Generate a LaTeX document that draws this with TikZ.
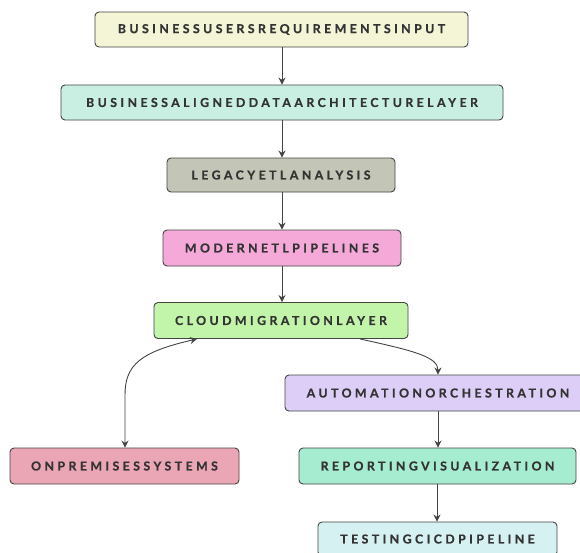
\documentclass[tikz,border=0pt]{standalone}
\usepackage{fontspec}
\newfontfamily\boxfont[LetterSpace=28,FakeBold=0.8]{Lato Bold}
\usetikzlibrary{arrows.meta}
\definecolor{edgec}{HTML}{444444}
\definecolor{txtc}{HTML}{333333}
\definecolor{cA}{HTML}{F3F5D6}
\definecolor{cB}{HTML}{C8EFE2}
\definecolor{cC}{HTML}{C3C5B6}
\definecolor{cD}{HTML}{F4A9D9}
\definecolor{cE}{HTML}{C2F5AA}
\definecolor{cF}{HTML}{DCCEF6}
\definecolor{cG}{HTML}{EBA6B6}
\definecolor{cH}{HTML}{A6ECD1}
\definecolor{cI}{HTML}{D6F1F2}
\begin{document}
\begin{tikzpicture}[x=1pt,y=-1pt,
  box/.style={draw=edgec, line width=0.9pt, rounded corners=4pt, text=txtc,
    font=\boxfont\fontsize{12.3}{14}\selectfont, inner sep=0pt, anchor=center},
  conn/.style={draw=edgec, line width=0.9pt, -{Stealth[length=7pt,width=7pt]}}]
\useasboundingbox[fill=white] (0,0) rectangle (580,552);
\begin{scope}
\clip (0,0) rectangle (580,552);
\node[box, fill=cA, minimum width=373pt, minimum height=35pt] (req) at (281.5,29.5) {BUSINESSUSERSREQUIREMENTSINPUT};
\node[box, fill=cB, minimum width=442pt, minimum height=35pt] (arch) at (282,102.5) {BUSINESSALIGNEDDATAARCHITECTURELAYER};
\node[box, fill=cC, minimum width=228pt, minimum height=34pt] (legacy) at (281,175) {LEGACYETLANALYSIS};
\node[box, fill=cD, minimum width=238pt, minimum height=36pt] (modern) at (282,248) {MODERNETLPIPELINES};
\node[box, fill=cE, minimum width=254pt, minimum height=36pt] (cloud) at (281,320.5) {CLOUDMIGRATIONLAYER};
\node[box, fill=cF, minimum width=306pt, minimum height=36pt] (auto) at (438,393) {AUTOMATIONORCHESTRATION};
\node[box, fill=cG, minimum width=229pt, minimum height=36pt] (onprem) at (124.5,466) {ONPREMISESSYSTEMS};
\node[box, fill=cH, minimum width=277pt, minimum height=36pt] (report) at (437.5,466) {REPORTINGVISUALIZATION};
\node[box, fill=cI, minimum width=239pt, minimum height=34pt] (test) at (437.5,539) {TESTINGCICDPIPELINE};
\end{scope}

\draw[conn] (req.south -| 282,0) -- (arch.north -| 282,0);
\draw[conn] (arch.south -| 282,0) -- (legacy.north -| 282,0);
\draw[conn] (legacy.south -| 282,0) -- (modern.north -| 282,0);
\draw[conn] (modern.south -| 282,0) -- (cloud.north -| 282,0);
\draw[conn, {Stealth[length=7pt,width=7pt]}-{Stealth[length=7pt,width=7pt]}]
  ([xshift=-84pt]cloud.south) .. controls (140,352) and (125,365) .. (125,395) -- (onprem.north -| 125,0);
\draw[conn] ([xshift=79pt]cloud.south) .. controls (415,351) and (438,357) .. (auto.north -| 438,0);
\draw[conn] (auto.south -| 438,0) -- (report.north -| 438,0);
\draw[conn] (report.south -| 437,0) -- (test.north -| 437,0);
\end{tikzpicture}
\end{document}
